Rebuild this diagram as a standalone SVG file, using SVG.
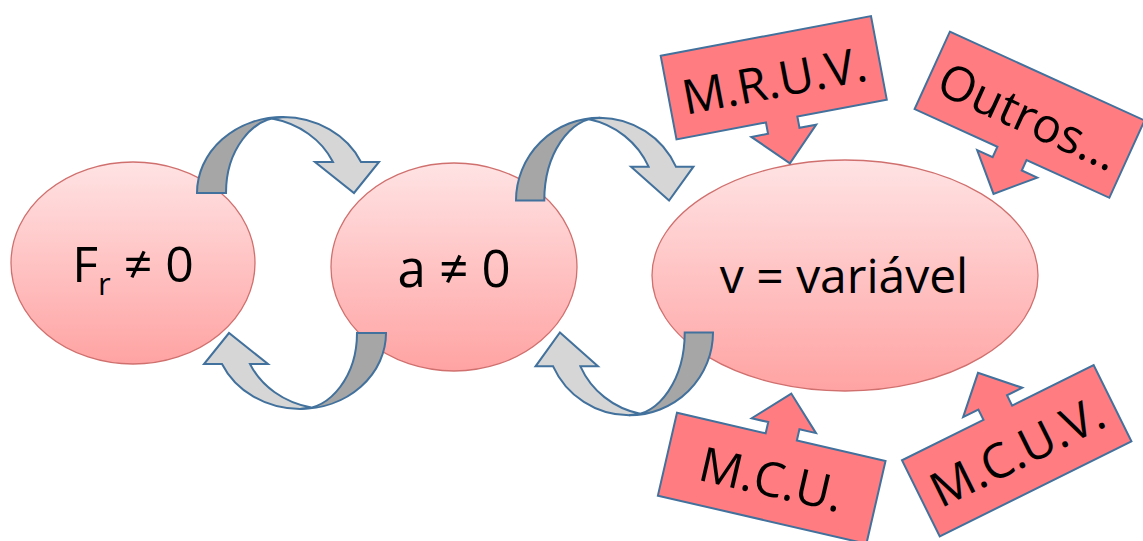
<svg xmlns="http://www.w3.org/2000/svg" xmlns:xlink="http://www.w3.org/1999/xlink" width="1143" height="541" viewBox="0 0 1143 541">
<style>
  .node { stroke: #D0706E; stroke-width: 1.3; fill: url(#pinkGrad); }
  .label { font-family: "Open Sans", "Noto Sans", sans-serif; font-size: 48px; fill: #000; text-anchor: middle; }
  .clabel { font-family: "Open Sans", "Noto Sans", sans-serif; font-size: 48px; fill: #000; text-anchor: middle; }
  .callout { fill: #FF7C80; stroke: #41719C; stroke-width: 2; stroke-linejoin: miter; }
  .dark { fill: #A6A6A6; stroke: #41719C; stroke-width: 2; vector-effect: non-scaling-stroke; }
  .light { fill: #D6D6D6; stroke: #41719C; stroke-width: 2; vector-effect: non-scaling-stroke; }
</style>
<defs>
  <linearGradient id="pinkGrad" x1="0" y1="0" x2="0" y2="1">
    <stop offset="0" stop-color="#FFE3E4"/>
    <stop offset="1" stop-color="#FFA3A3"/>
  </linearGradient>
  <g id="curved">
    <path class="light" d="M283,117 A86,76 0 0 1 361,162 L379,162 L354,193 L315,162 L333,162 A86,76 0 0 0 271.8,118.5 Z"/>
    <path class="dark" d="M197,193 A86,76 0 0 1 283,117 A57,76 0 0 0 226,193 Z"/>
  </g>
  <path id="callShape" class="callout" d="M-107,-42.5 L107,-42.5 L107,42.5 L16,42.5 L16,54 L33,54 L0,87 L-33,54 L-16,54 L-16,42.5 L-107,42.5 Z"/>
</defs>

<g id="node-fr">
  <ellipse class="node" cx="133" cy="263" rx="122" ry="101"/>
  <text class="label" x="133" y="282" style="font-size:50px">F<tspan style="font-size:31px" dy="13">r</tspan><tspan dy="-13"> ≠ 0</tspan></text>
</g>
<g id="node-a">
  <ellipse class="node" cx="454" cy="267" rx="123" ry="104"/>
  <text class="label" x="454" y="287" style="font-size:51px">a ≠ 0</text>
</g>
<g id="node-v">
  <ellipse class="node" cx="845" cy="275.5" rx="193" ry="115.5"/>
  <text class="label" x="844" y="293">v = variável</text>
</g>

<g id="connectors">
  <use xlink:href="#curved"/>
  <use xlink:href="#curved" transform="rotate(180 291.5 263)"/>
  <g transform="translate(516,200.5) scale(0.975,1.09) translate(-197,-193)"><use xlink:href="#curved"/></g>
  <g transform="rotate(180 614.5 266.5) translate(516,200.5) scale(0.975,1.09) translate(-197,-193)"><use xlink:href="#curved"/></g>
</g>

<g id="node-mruv" transform="translate(773.75,77.75) rotate(-10.7)">
  <use xlink:href="#callShape"/>
  <text class="clabel" x="0" y="20">M.R.U.V.</text>
</g>
<g id="node-outros" transform="translate(1029.6,114.75) rotate(24.5)">
  <use xlink:href="#callShape"/>
  <text class="clabel" x="0" y="19">Outros...</text>
</g>
<g id="node-mcu" transform="translate(771.7,478.3)">
  <use xlink:href="#callShape" transform="rotate(193)"/>
  <text class="clabel" x="0" y="18" transform="rotate(13)">M.C.U.</text>
</g>
<g id="node-mcuv" transform="translate(1016.7,450.8)">
  <use xlink:href="#callShape" transform="rotate(153.6)"/>
  <text class="clabel" x="0" y="18" transform="rotate(-26.4)">M.C.U.V.</text>
</g>
</svg>
